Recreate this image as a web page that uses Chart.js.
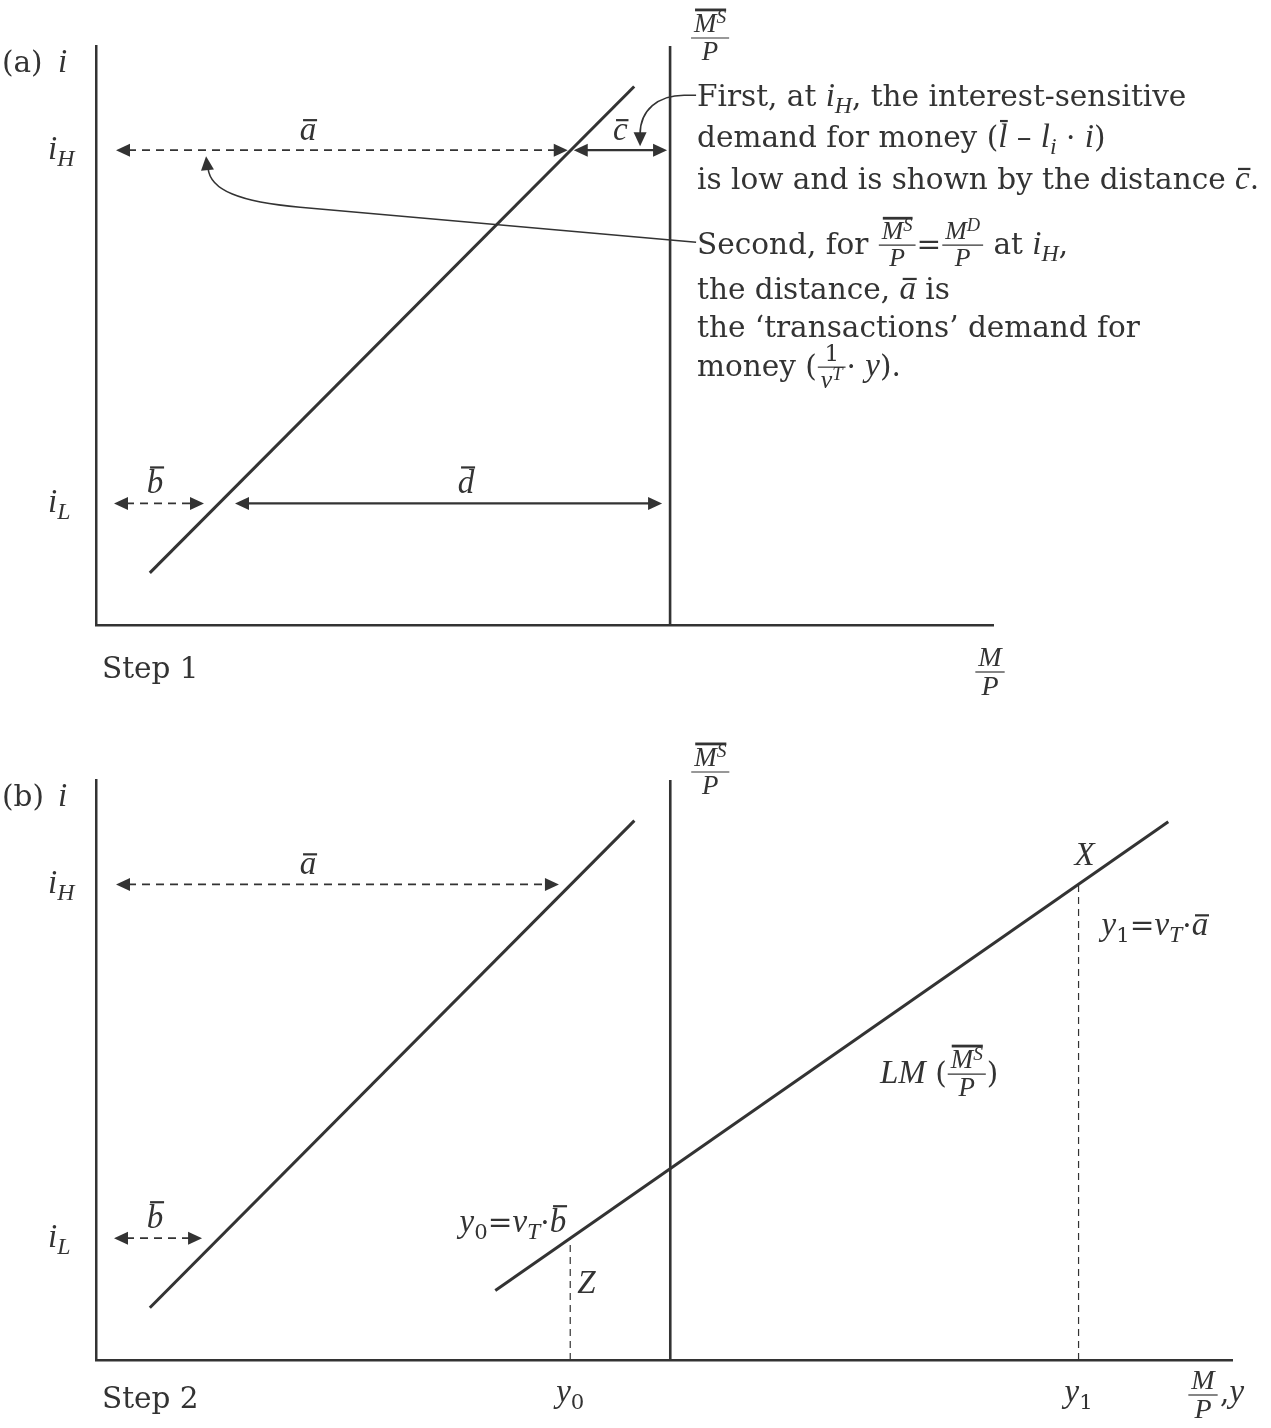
<!DOCTYPE html>
<html>
<head>
<meta charset="utf-8">
<script src="https://cdn.jsdelivr.net/npm/chart.js@4/dist/chart.umd.min.js"></script>
<style>
  html, body { margin: 0; padding: 0; background: #fff; }
  #wrap { position: relative; width: 1271px; height: 1428px; }
  canvas { position: absolute; left: 0; }
  #chartA { top: 0; }
  #chartB { top: 700px; }
</style>
</head>
<body>
<div id="wrap">
  <canvas id="chartA" width="1271" height="700"></canvas>
  <canvas id="chartB" width="1271" height="728"></canvas>
</div>
<script>
// money market (step 1) and LM curve (step 2)
const INK = '#333';
const FONT = '"DejaVu Serif", "Liberation Serif", serif';
const MATH = '"Liberation Serif", "DejaVu Serif", serif';
const FS = 29.5;

// interest rate levels (y units, 0..100)
const iHigh = 82;
const iLow = 21;
// real money supply (vertical line)
const moneySupply = 64;
// money demand line end points
const demandM = [6, 60];
const demandI = [9, 93];
// LM curve end points (panel b)
const lmY = [44.5, 119.5];
const lmI = [12, 92.8];
// income levels
const y0 = 52.85;
const y1 = 109.5;
// x ranges of the two panels
const xMaxA = 100;
const xMaxB = 126.6;

function demandAt(i){
    return demandM[0] + (i - demandI[0]) * (demandM[1] - demandM[0]) / (demandI[1] - demandI[0]);
}

// ---------- text helpers ----------
// italic math letters use a Times-like face, running text a wider serif
function font(size, it){
    return it ? 'italic ' + (size * 1.12).toFixed(1) + 'px ' + MATH : size + 'px ' + FONT;
}

function runs(ctx, list, x, y, size, dry){
    for(const r of list){
        if(r.frac){
            const fs = r.size || size * 0.78;
            const wn = runs(ctx, r.frac[0], 0, 0, fs, true);
            const wd = runs(ctx, r.frac[1], 0, 0, fs, true);
            const w = Math.max(wn, wd) + 4;
            if(!dry) fracAt(ctx, r.frac[0], r.frac[1], x + 2 + w/2, y - size*0.3, fs);
            x += w + 4;
            continue;
        }
        if(r.group){
            const w = runs(ctx, r.group, 0, 0, size, true);
            if(!dry){
                runs(ctx, r.group, x, y, size, false);
                if(r.bar) overline(ctx, x + 1, x + w, y - size*0.92, 2.8);
            }
            x += w;
            continue;
        }
        const s = (r.sub || r.sup) ? size * 0.72 : size;
        const dy = r.sub ? size * 0.24 : (r.sup ? -size * 0.36 : 0);
        ctx.font = font(s, r.it);
        const w = ctx.measureText(r.t).width;
        if(!dry){
            ctx.fillText(r.t, x, y + dy);
            if(r.bar){
                const tall = /[bdlMX]/.test(r.t);
                const by = y + dy - s * (tall ? 0.88 : 0.68);
                overline(ctx, x + w*0.2, x + w*1.05, by, 2.2);
            }
        }
        x += w;
    }
    return x;
}

function overline(ctx, x1, x2, y, lw){
    ctx.save();
    ctx.strokeStyle = INK; ctx.lineWidth = lw; ctx.setLineDash([]);
    ctx.beginPath(); ctx.moveTo(x1, y); ctx.lineTo(x2, y); ctx.stroke();
    ctx.restore();
}

function fracAt(ctx, num, den, cx, ly, fs){
    const wn = runs(ctx, num, 0, 0, fs, true);
    const wd = runs(ctx, den, 0, 0, fs, true);
    const w = Math.max(wn, wd) + 6;
    runs(ctx, num, cx - wn/2, ly - fs*0.25, fs);
    runs(ctx, den, cx - wd/2, ly + fs*0.92, fs);
    ctx.save();
    ctx.strokeStyle = INK; ctx.lineWidth = 1.2;
    ctx.beginPath(); ctx.moveTo(cx - w/2, ly); ctx.lineTo(cx + w/2, ly); ctx.stroke();
    ctx.restore();
}

function label(ctx, list, x, y, size, align){
    ctx.fillStyle = INK; ctx.textAlign = 'left'; ctx.textBaseline = 'alphabetic';
    const w = runs(ctx, list, 0, 0, size, true);
    if(align === 'center') x -= w/2;
    if(align === 'right') x -= w;
    runs(ctx, list, x, y, size);
}

// ---------- arrow helpers ----------
function head(ctx, tx, ty, ang, len, half){
    len = len || 14; half = half || 6.5;
    const c = Math.cos(ang), s = Math.sin(ang);
    ctx.beginPath();
    ctx.moveTo(tx, ty);
    ctx.lineTo(tx - len*c + half*s, ty - len*s - half*c);
    ctx.lineTo(tx - len*c - half*s, ty - len*s + half*c);
    ctx.closePath(); ctx.fill();
}

function arrow(ctx, x1, x2, y, dashed){
    ctx.save();
    ctx.strokeStyle = INK; ctx.fillStyle = INK;
    ctx.lineWidth = dashed ? 1.8 : 2.2;
    ctx.setLineDash(dashed ? [8, 6] : []);
    ctx.beginPath(); ctx.moveTo(x1 + 12, y); ctx.lineTo(x2 - 12, y); ctx.stroke();
    ctx.setLineDash([]);
    head(ctx, x1, y, Math.PI);
    head(ctx, x2, y, 0);
    ctx.restore();
}

const MS_P = [[{group: [{t:'M', it:1}, {t:'S', it:1, sup:1}], bar:1}], [{t:'P', it:1}]];
const M_P = [[{t:'M', it:1}], [{t:'P', it:1}]];

function common(chart, tag){
    const ctx = chart.ctx, xs = chart.scales.x, ys = chart.scales.y;
    const left = chart.chartArea.left;
    const g = {
        ctx, left,
        xS: xs.getPixelForValue(moneySupply),
        yH: ys.getPixelForValue(iHigh),
        yL: ys.getPixelForValue(iLow),
        cH: xs.getPixelForValue(demandAt(iHigh)),
        cL: xs.getPixelForValue(demandAt(iLow)),
        top: chart.chartArea.top,
        bottom: chart.chartArea.bottom,
        right: chart.chartArea.right,
        xs, ys
    };
    label(ctx, [{t:'(' + tag + ')'}], 2, g.top + 26, FS);
    label(ctx, [{t:'i', it:1}], 58, g.top + 26, FS);
    label(ctx, [{t:'i', it:1}, {t:'H', it:1, sub:1}], 48, g.yH + 9, FS);
    label(ctx, [{t:'i', it:1}, {t:'L', it:1, sub:1}], 48, g.yL + 9, FS);
    fracAt(ctx, MS_P[0], MS_P[1], g.xS + 40, g.top - 8, 24);
    return g;
}

function drawPanelA(chart){
    const g = common(chart, 'a');
    const ctx = g.ctx;
    arrow(ctx, g.left + 20, g.cH - 3, g.yH, true);
    arrow(ctx, g.cH + 3, g.xS - 3, g.yH, false);
    arrow(ctx, g.left + 18, g.cL - 15, g.yL, true);
    arrow(ctx, g.cL + 16, g.xS - 8, g.yL, false);
    label(ctx, [{t:'a', it:1, bar:1}], 308, g.yH - 10, FS, 'center');
    label(ctx, [{t:'c', it:1, bar:1}], (g.cH + g.xS)/2, g.yH - 10, FS, 'center');
    label(ctx, [{t:'b', it:1, bar:1}], 155, g.yL - 10, FS, 'center');
    label(ctx, [{t:'d', it:1, bar:1}], 466, g.yL - 10, FS, 'center');

    label(ctx, [{t:'Step 1'}], 102, g.bottom + 53, FS);
    fracAt(ctx, M_P[0], M_P[1], 990, g.bottom + 47, 25);

    // callout connectors
    ctx.save();
    ctx.strokeStyle = INK; ctx.fillStyle = INK; ctx.lineWidth = 1.6;
    ctx.beginPath();
    ctx.moveTo(g.xS + 26, g.yH - 55);
    ctx.lineTo(g.xS + 14, g.yH - 55);
    ctx.bezierCurveTo(g.xS - 12, g.yH - 55, g.xS - 30, g.yH - 40, g.xS - 30, g.yH - 16);
    ctx.stroke();
    head(ctx, g.xS - 30, g.yH - 4, Math.PI/2, 14, 6.5);
    ctx.beginPath();
    ctx.moveTo(g.xS + 26, g.yH + 92);
    ctx.lineTo(g.xS - 370, g.yH + 57);
    ctx.bezierCurveTo(g.xS - 430, g.yH + 52, g.xS - 460, g.yH + 40, g.xS - 462, g.yH + 18);
    ctx.stroke();
    head(ctx, g.xS - 464, g.yH + 6, -Math.PI/2 - 0.1, 14, 6.5);
    ctx.restore();

    const tx = g.xS + 27;
    label(ctx, [{t:'First, at '}, {t:'i', it:1}, {t:'H', it:1, sub:1}, {t:', the interest-sensitive'}], tx, 106, FS);
    label(ctx, [{t:'demand for money ('}, {t:'l', it:1, bar:1}, {t:' – '}, {t:'l', it:1}, {t:'i', it:1, sub:1}, {t:' · '}, {t:'i', it:1}, {t:')'}], tx, 147, FS);
    label(ctx, [{t:'is low and is shown by the distance '}, {t:'c', it:1, bar:1}, {t:'.'}], tx, 189, FS);
    label(ctx, [{t:'Second, for '}, {frac: MS_P, size: 23}, {t:'='}, {frac: [[{t:'M', it:1}, {t:'D', it:1, sup:1}], [{t:'P', it:1}]], size: 23}, {t:' at '}, {t:'i', it:1}, {t:'H', it:1, sub:1}, {t:','}], tx, 254, FS);
    label(ctx, [{t:'the distance, '}, {t:'a', it:1, bar:1}, {t:' is'}], tx, 299, FS);
    label(ctx, [{t:'the ‘transactions’ demand for'}], tx, 337, FS);
    label(ctx, [{t:'money ('}, {frac: [[{t:'1'}], [{t:'v', it:1}, {t:'T', it:1, sup:1}]], size: 23}, {t:'· '}, {t:'y', it:1}, {t:').'}], tx, 376, FS);
}

function drawPanelB(chart){
    const g = common(chart, 'b');
    const ctx = g.ctx;
    const x0 = g.xs.getPixelForValue(y0), x1 = g.xs.getPixelForValue(y1);
    arrow(ctx, g.left + 20, g.cH - 12, g.yH, true);
    arrow(ctx, g.left + 18, g.cL - 17, g.yL, true);
    label(ctx, [{t:'a', it:1, bar:1}], 308, g.yH - 10, FS, 'center');
    label(ctx, [{t:'b', it:1, bar:1}], 155, g.yL - 10, FS, 'center');

    label(ctx, [{t:'X', it:1}], x1 + 6, g.yH - 19, FS, 'center');
    label(ctx, [{t:'y', it:1}, {t:'1', sub:1}, {t:'='}, {t:'v', it:1}, {t:'T', it:1, sub:1}, {t:'·'}, {t:'a', it:1, bar:1}], x1 + 23, g.yH + 51, FS);
    label(ctx, [{t:'LM', it:1}, {t:' ('}, {frac: MS_P, size: 24}, {t:')'}], 880, 383, FS);
    label(ctx, [{t:'y', it:1}, {t:'0', sub:1}, {t:'='}, {t:'v', it:1}, {t:'T', it:1, sub:1}, {t:'·'}, {t:'b', it:1, bar:1}], x0 - 4, g.yL - 6, FS, 'right');
    label(ctx, [{t:'Z', it:1}], x0 + 7, g.yL + 55, FS);

    label(ctx, [{t:'y', it:1}, {t:'0', sub:1}], x0, g.bottom + 42, FS, 'center');
    label(ctx, [{t:'y', it:1}, {t:'1', sub:1}], x1, g.bottom + 42, FS, 'center');
    label(ctx, [{t:'Step 2'}], 102, g.bottom + 48, FS);
    fracAt(ctx, M_P[0], M_P[1], 1203, g.bottom + 35, 25);
    label(ctx, [{t:','}, {t:'y', it:1}], 1220, g.bottom + 42, FS);
}

// ---------- charts ----------
function axisOpts(max){
    return {
        type: 'linear', min: 0, max: max,
        grid: { display: false, drawTicks: false, tickLength: 0 },
        ticks: { display: false },
        border: { display: true, color: INK, width: 2.5 }
    };
}

function lineSet(xs, ys, extra){
    return Object.assign({
        data: xs.map((x, k) => ({x: x, y: ys[k]})),
        showLine: true, borderColor: INK, borderWidth: 3,
        pointRadius: 0, fill: false, clip: false
    }, extra || {});
}

function makeChart(id, xMax, pad, datasets, draw){
    return new Chart(document.getElementById(id), {
        type: 'scatter',
        data: { datasets: datasets },
        options: {
            responsive: false, animation: false, devicePixelRatio: 1,
            layout: { padding: pad },
            plugins: { legend: { display: false }, tooltip: { enabled: false } },
            scales: { x: axisOpts(xMax), y: axisOpts(100) }
        },
        plugins: [{ id: id + 'Notes', afterDraw: draw }]
    });
}

makeChart('chartA', xMaxA, {left: 96, right: 278, top: 46, bottom: 75}, [
    lineSet(demandM, demandI),
    lineSet([moneySupply, moneySupply], [0, 100], {borderWidth: 2.6})
], drawPanelA);

makeChart('chartB', xMaxB, {left: 96, right: 39, top: 80, bottom: 68}, [
    lineSet(demandM, demandI),
    lineSet([moneySupply, moneySupply], [0, 100], {borderWidth: 2.6}),
    lineSet(lmY, lmI),
    lineSet([y0, y0], [0, iLow], {borderWidth: 1.2, borderDash: [7, 5]}),
    lineSet([y1, y1], [0, iHigh], {borderWidth: 1.2, borderDash: [7, 5]})
], drawPanelB);
</script>
</body>
</html>
